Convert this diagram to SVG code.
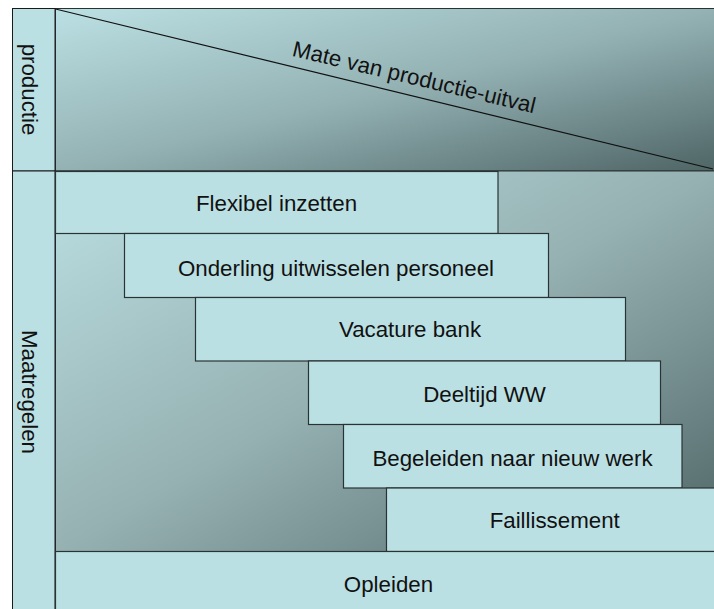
<svg xmlns="http://www.w3.org/2000/svg" width="714" height="609" viewBox="0 0 714 609">
<defs>
<linearGradient id="gTop" x1="0" y1="0" x2="1" y2="1">
<stop offset="0" stop-color="#bbe0e3"/>
<stop offset="0.5" stop-color="#94b2b4"/>
<stop offset="1" stop-color="#4f6566"/>
</linearGradient>
<linearGradient id="gMid" x1="0" y1="0" x2="1" y2="1">
<stop offset="0" stop-color="#bbe0e3"/>
<stop offset="0.5" stop-color="#96b1b2"/>
<stop offset="1" stop-color="#4f6566"/>
</linearGradient>
</defs>
<style>
.col{fill:#bbe0e3;stroke:#1a1a1a;stroke-width:1}
.box{fill:#bbe0e3;stroke:#2a3333;stroke-width:1.2}
.t{font-family:"Liberation Sans",Arial,sans-serif;font-size:22.3px;fill:#111;text-anchor:middle}
</style>
<rect width="714" height="609" fill="#ffffff"/>
<g id="top-area">
<rect x="55.5" y="8.5" width="660" height="162.5" fill="url(#gTop)" stroke="#2a3333" stroke-width="1"/>
<line x1="55.5" y1="9" x2="713" y2="169" stroke="#111" stroke-width="1.2"/>
<text class="t" transform="translate(412.5,84.5) rotate(13.4)">Mate van productie-uitval</text>
</g>
<g id="mid-area">
<rect x="55.5" y="171" width="660" height="381" fill="url(#gMid)" stroke="#2a3333" stroke-width="1"/>
</g>
<g id="label-productie">
<rect class="col" x="12.5" y="8.5" width="42.5" height="162.5"/>
<text class="t" transform="translate(22,89.5) rotate(90)">productie</text>
</g>
<g id="label-maatregelen">
<rect class="col" x="12.5" y="171" width="42.5" height="450"/>
<text class="t" transform="translate(22,392) rotate(90)">Maatregelen</text>
</g>
<g id="flexibel">
<rect class="box" x="55.5" y="171.5" width="442.5" height="62"/>
<text class="t" x="276.5" y="210.7">Flexibel inzetten</text>
</g>
<g id="onderling">
<rect class="box" x="124.5" y="233.5" width="424" height="64"/>
<text class="t" x="336" y="275.5">Onderling uitwisselen personeel</text>
</g>
<g id="vacature">
<rect class="box" x="195.5" y="297.5" width="430" height="63.5"/>
<text class="t" x="410" y="336.7">Vacature bank</text>
</g>
<g id="deeltijd">
<rect class="box" x="308.5" y="361" width="352" height="63.5"/>
<text class="t" x="484.5" y="402.3">Deeltijd WW</text>
</g>
<g id="begeleiden">
<rect class="box" x="343.5" y="424.5" width="338.5" height="63.5"/>
<text class="t" x="512.5" y="466">Begeleiden naar nieuw werk</text>
</g>
<g id="faillissement">
<rect class="box" x="386.5" y="488" width="336" height="63.5"/>
<text class="t" x="554.7" y="528.3">Faillissement</text>
</g>
<g id="opleiden">
<rect class="box" x="55.5" y="551.5" width="667" height="70"/>
<text class="t" x="388.5" y="591.7">Opleiden</text>
</g>
<g id="connectors"></g>
</svg>
